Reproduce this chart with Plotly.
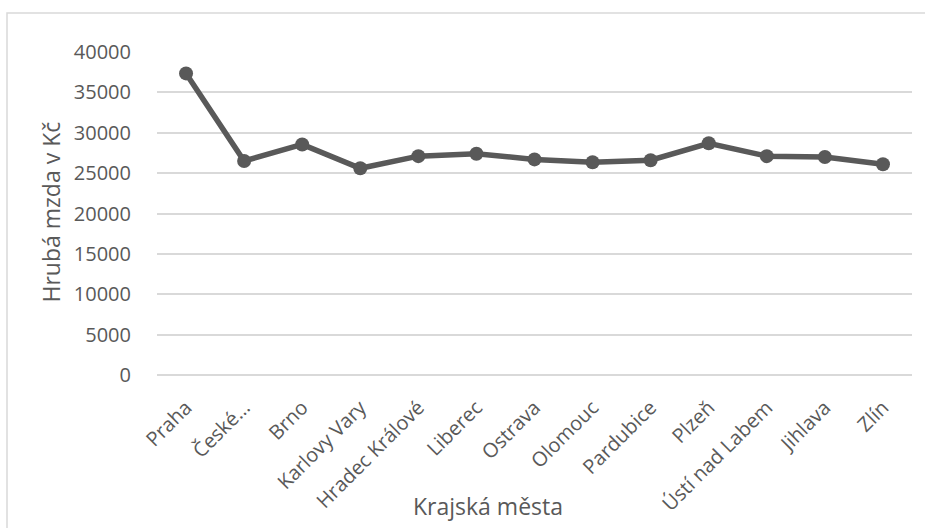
import plotly.graph_objects as go

cities = ["Praha", "České…", "Brno", "Karlovy Vary", "Hradec Králové", "Liberec",
          "Ostrava", "Olomouc", "Pardubice", "Plzeň", "Ústí nad Labem", "Jihlava", "Zlín"]
wages = [37350, 26500, 28550, 25600, 27100, 27400, 26700, 26350, 26600, 28700, 27100, 27000, 26100]
y_ticks = [0, 5000, 10000, 15000, 20000, 25000, 30000, 35000, 40000]

W, H = 925, 528
L, R, T, B = 157, 13, 52, 153
pw, ph = W - L - R, H - T - B

def px(x):
    return (x - L) / pw

def py(y):
    return (H - B - y) / ph

grey = "#595959"
grid = "#d9d9d9"
font = "Open Sans"

fig = go.Figure()
fig.add_trace(go.Scatter(
    x=cities, y=wages, mode="lines+markers",
    line=dict(color=grey, width=5.5),
    marker=dict(color=grey, size=14),
    hoverinfo="x+y",
))

fig.update_layout(
    width=W, height=H,
    margin=dict(l=L, r=R, t=T, b=B, autoexpand=False),
    paper_bgcolor="white", plot_bgcolor="white",
    showlegend=False,
    font=dict(family=font, color=grey, size=19),
    xaxis=dict(
        type="category", range=[-0.5, 12.5],
        showgrid=False, showline=False, zeroline=False,
        tickangle=-45, tickfont=dict(family=font, size=20, color=grey),
        ticks="", ticklabelstandoff=16,
    ),
    yaxis=dict(
        range=[0, 40000], tickvals=y_ticks, ticktext=[str(v) for v in y_ticks],
        showgrid=True, gridcolor=grid, gridwidth=2,
        zeroline=True, zerolinecolor=grid, zerolinewidth=2,
        showline=False, ticks="",
        tickfont=dict(family=font, size=20, color=grey),
        ticklabelstandoff=25,
    ),
    shapes=[dict(
        type="rect", xref="paper", yref="paper",
        x0=px(7), x1=px(W + 20), y0=py(H + 20), y1=py(13),
        line=dict(color=grid, width=1.5), fillcolor="rgba(0,0,0,0)", layer="below",
    )],
    annotations=[
        dict(text="Krajská města", xref="paper", yref="paper",
             x=px(488), y=py(506), xanchor="center", yanchor="middle",
             showarrow=False, font=dict(family=font, size=23, color=grey)),
        dict(text="Hrubá mzda v Kč", xref="paper", yref="paper",
             x=px(50), y=py(212.5), xanchor="center", yanchor="middle",
             textangle=-90, showarrow=False,
             font=dict(family=font, size=23, color=grey)),
    ],
)

fig.write_html("out.html")
